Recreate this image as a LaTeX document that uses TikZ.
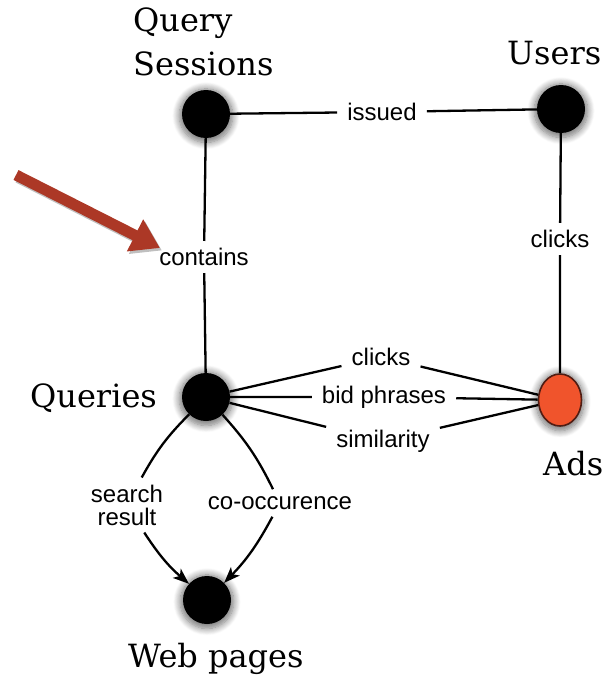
\documentclass[tikz,border=0pt]{standalone}
\usepackage{fontspec}
\setmainfont{Liberation Sans}
\newfontfamily\titlefont{DejaVu Serif}
\usetikzlibrary{arrows.meta,shapes.geometric,shadows.blur}
\definecolor{adsfill}{RGB}{240,84,44}
\definecolor{adsedge}{RGB}{80,28,18}
\definecolor{pointer}{RGB}{172,56,38}
\begin{document}
\begin{tikzpicture}[x=1pt,y=-1pt,
  softshadow/.style={blur shadow={shadow xshift=0pt,shadow yshift=-1.5pt,
      shadow scale=1.12,shadow blur radius=6pt,shadow blur steps=10,shadow opacity=55}},
  entity/.style={circle,fill=black,minimum size=48pt,inner sep=0pt,softshadow},
  adnode/.style={ellipse,fill=adsfill,draw=adsedge,line width=1.6pt,
      minimum width=43pt,minimum height=52pt,inner sep=0pt,softshadow},
  title/.style={font=\titlefont\fontsize{32}{38}\selectfont,inner sep=0pt},
  rel/.style={font=\fontsize{24}{26}\selectfont,inner xsep=10pt,inner ysep=7pt,
      align=center},
  link/.style={line width=2.3pt},
  tip/.style={-{Stealth[length=16pt,width=12pt,inset=4pt]}},
]
\useasboundingbox (0,0) rectangle (608,677);

% entities
\node[entity] (qs) at (206,114) {};
\node[entity] (users) at (561,109) {};
\node[entity] (q) at (206,397) {};
\node[adnode] (ads) at (560,400) {};
\node[entity] (web) at (207,600) {};

% entity names
\node[title,anchor=base west] (tqs1) at (133,32) {Query};
\node[title,anchor=base west] (tqs2) at (133,75) {Sessions};
\node[title,anchor=base west] (tusers) at (507,65) {Users};
\node[title,anchor=base west] (tq) at (30,407) {Queries};
\node[title,anchor=base west] (tads) at (543,475) {Ads};
\node[title,anchor=base west] (tweb) at (128,667) {Web pages};

% relation labels
\node[rel] (issued) at (382,112) {issued};
\node[rel] (contains) at (204,257) {contains};
\node[rel] (uclicks) at (560,239) {clicks};
\node[rel] (qclicks) at (381,357) {clicks};
\node[rel] (bid) at (384,397) {bid phrases};
\node[rel] (sim) at (383,441) {similarity};
\node[rel] (search) at (127,505) {search\\[-3pt]result};
\node[rel] (cooc) at (280,503) {co-occurence};

% links through their labels
\draw[link] (qs) -- (issued) -- (users);
\draw[link] (qs) -- (contains) -- (q);
\draw[link] (users) -- (uclicks) -- (ads);
\draw[link] (q) -- (qclicks) -- (ads);
\draw[link] (q) -- (bid) -- (ads);
\draw[link] (q) -- (sim) -- (ads);

% directed links towards web pages
\draw[link] (q) to[bend right=8] (search);
\draw[link,tip] (search) to[bend right=8] (web);
\draw[link] (q) to[bend left=8] (cooc);
\draw[link,tip] (cooc) to[bend left=8] (web);

% pointer arrow
\coordinate (ptail) at (16,175);
\coordinate (phead) at (160,248);
\draw[line width=11pt,black,opacity=0.25,
  -{Triangle[length=28pt,width=34pt]},transform canvas={shift={(2pt,-2.5pt)}}]
  (ptail) -- (phead);
\draw[line width=11pt,pointer,-{Triangle[length=28pt,width=34pt]}]
  (ptail) -- (phead);
\end{tikzpicture}
\end{document}
